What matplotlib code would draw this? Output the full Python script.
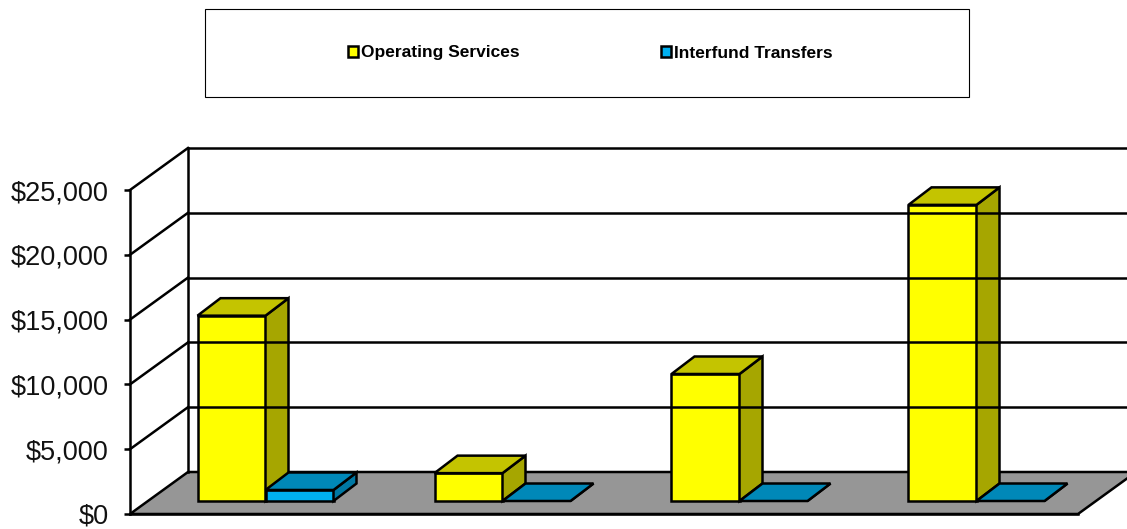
# -*- coding: utf-8 -*-
import matplotlib
matplotlib.use("Agg")
import matplotlib.pyplot as plt
from matplotlib.patches import Patch, Rectangle

plt.rcParams['font.family'] = ['Liberation Sans', 'DejaVu Sans']

# data
operating_services = [14300, 2150, 9800, 22850]
interfund_transfers = [850, 0, 0, 0]
y_ticks = [0, 5000, 10000, 15000, 20000, 25000]
y_tick_labels = ["$0", "$5,000", "$10,000", "$15,000", "$20,000", "$25,000"]
series_names = ["Operating Services", "Interfund Transfers"]

W, H = 1127, 529

# 3d look, in data units (categories, dollars)
wall_dx, wall_dy = 58 / 237, 3241
bar_dx, bar_dy = 17 / 237, 1003
deep_dx, deep_dy = 23 / 237, 1350
bar_w = 68 / 237
LW = 1.8


def draw_bar(ax, x, val, front, top, side):
    x0 = x + bar_dx
    x1 = x0 + bar_w
    y0 = bar_dy
    y1 = bar_dy + val
    if val > 0:
        ax.fill([x0, x1, x1, x0], [y0, y0, y1, y1], fc=front, ec="black", lw=LW, clip_on=False)
    ax.fill([x1, x1 + deep_dx, x1 + deep_dx, x1],
            [y0, y0 + deep_dy, y1 + deep_dy, y1], fc=side, ec="black", lw=LW, clip_on=False)
    ax.fill([x0, x1, x1 + deep_dx, x0 + deep_dx],
            [y1, y1, y1 + deep_dy, y1 + deep_dy], fc=top, ec="black", lw=LW, clip_on=False)


fig = plt.figure(figsize=(W / 100, H / 100), dpi=100)
ax = fig.add_axes([130 / W, (H - 514) / H, 948 / W, 324 / H])
ax.set_xlim(0, 4)
ax.set_ylim(0, 25000)
ax.patch.set_visible(False)

# floor
ax.fill([0, 4, 4 + wall_dx, wall_dx], [0, 0, wall_dy, wall_dy],
        fc="#969696", ec="black", lw=LW, clip_on=False)

# walls and gridlines
for t in y_ticks[1:]:
    ax.plot([wall_dx, 4 + wall_dx], [t + wall_dy, t + wall_dy], color="black", lw=LW, clip_on=False)
    ax.plot([0, wall_dx], [t, t + wall_dy], color="black", lw=LW, clip_on=False)
ax.plot([wall_dx, wall_dx], [wall_dy, 25000 + wall_dy], color="black", lw=LW, clip_on=False)

# bars
for i in range(len(operating_services)):
    x = i + (1 - 2 * bar_w) / 2
    draw_bar(ax, x, operating_services[i], "#ffff00", "#c4c400", "#a6a600")
    draw_bar(ax, x + bar_w, interfund_transfers[i], "#00b0f0", "#0088b8", "#0078a4")

ax.set_yticks(y_ticks)
ax.set_yticklabels(y_tick_labels, fontsize=19.5, color="#111111")
ax.set_xticks([])
ax.tick_params(axis="y", length=4.5, width=LW, pad=11)
ax.spines["top"].set_visible(False)
ax.spines["right"].set_visible(False)
ax.spines["left"].set_linewidth(LW)
ax.spines["bottom"].set_linewidth(LW)

# legend box
fig.add_artist(Rectangle((204.5 / W, (H - 97) / H), 764 / W, 88 / H, transform=fig.transFigure,
                         fc="white", ec="black", lw=0.8))
handles = [Patch(fc="#ffff00", ec="black", lw=LW), Patch(fc="#00b0f0", ec="black", lw=LW)]
leg = fig.legend(handles, series_names, loc="center", bbox_to_anchor=(590.5 / W, (H - 53) / H),
                 ncol=2, frameon=False, handlelength=0.55, handleheight=0.55, handletextpad=0.2,
                 columnspacing=8.15, borderpad=0, prop={"size": 12.5, "weight": "bold"})
# nudge so both entries sit on one baseline
leg.get_texts()[1].set_y(-1)

fig.savefig("out.png", dpi=100)
